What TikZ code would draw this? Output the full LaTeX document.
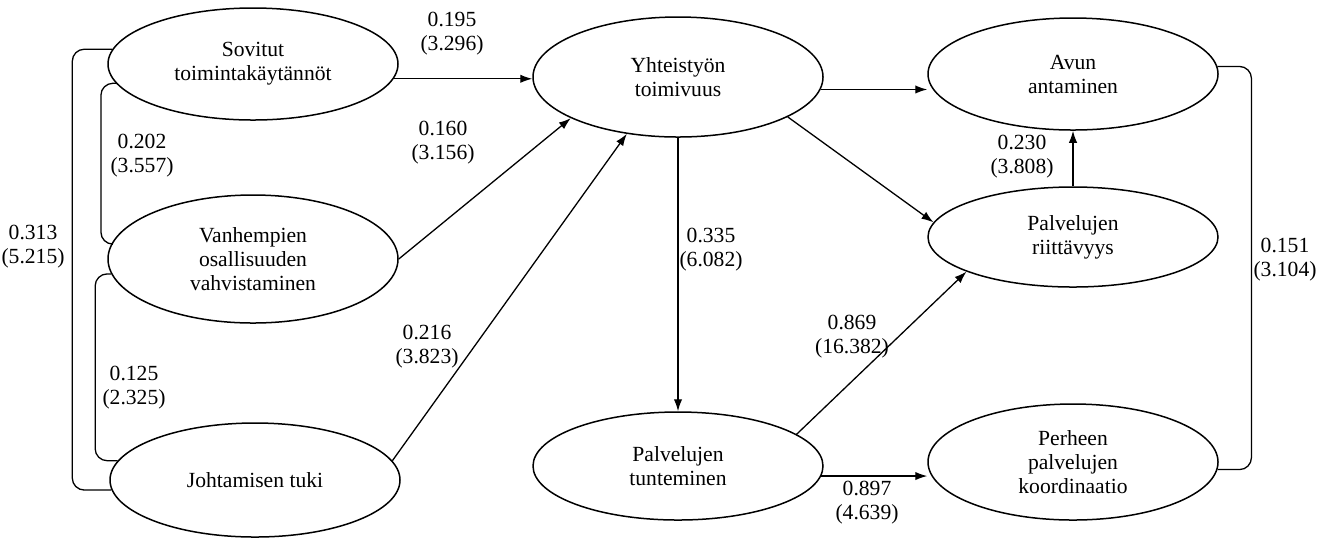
\documentclass[tikz,border=0pt]{standalone}
\usepackage{fontspec}
\setmainfont{Liberation Serif}
\usepackage{tikz}
\usetikzlibrary{shapes.geometric,arrows.meta}

\begin{document}
\begin{tikzpicture}[x=0.5pt,y=-0.5pt,font=\fontsize{10.8}{12}\selectfont]
  \tikzstyle{factor}=[ellipse,draw,line width=0.75pt,inner sep=0pt,minimum width=145pt,minimum height=56pt,align=center]
  \tikzstyle{coef}=[align=center,inner sep=1pt]
  \tikzstyle{path}=[line width=0.65pt,-{Latex[length=6pt,width=4.2pt]}]
  \tikzstyle{corr}=[line width=0.65pt,rounded corners=6pt]
  \useasboundingbox (0,0) rectangle (1325,538);
  \node[factor] (sov) at (253,64) {Sovitut\\toimintakäytännöt};
  \node[factor,minimum height=64pt] (van) at (253,259) {Vanhempien\\osallisuuden\\vahvistaminen};
  \node[factor,minimum height=57pt] (joh) at (255,480) {Johtamisen tuki};
  \node[factor,minimum height=60pt] (yht) at (678,77) {Yhteistyön\\toimivuus};
  \node[factor,minimum height=54pt] (tun) at (678,466) {Palvelujen\\tunteminen};
  \node[factor] (avun) at (1073,74) {Avun\\antaminen};
  \node[factor,minimum height=50pt] (riit) at (1073,237) {Palvelujen\\riittävyys};
  \node[factor,minimum height=58pt] (per) at (1073,462) {Perheen\\palvelujen\\koordinaatio};

  \draw[path] (sov.-6) -- (sov.-6 -| yht.west);
  \draw[path] (van.east) -- (yht.201);
  \draw[path] (joh.8) -- (yht.228);
  \draw[path] (yht.-5) -- (yht.-5 -| avun.west);
  \draw[path] (yht.-20) -- (riit.174);
  \draw[path] (yht.south) -- (tun.north);
  \draw[path] (riit.north) -- (avun.south);
  \draw[path] (tun.15) -- (riit.198);
  \draw[path] (tun.-4) -- (tun.-4 -| per.west);

  \draw[corr] (sov.188) -- ++(-15,0) |- (van.174);
  \draw[corr] (van.186) -- ++(-16,0) |- (joh.172);
  \draw[corr] (sov.174) -- ++(-40,0) |- (joh.184);
  \draw[corr] (avun.3) -- ++(34,0) |- (per.-3);

  \node[coef] (c1) at (452,34) {0.195\\(3.296)};
  \node[coef] (c2) at (443,143) {0.160\\(3.156)};
  \node[coef] (c3) at (427,347) {0.216\\(3.823)};
  \node[coef] (c4) at (711,250) {0.335\\(6.082)};
  \node[coef] (c5) at (1022,157) {0.230\\(3.808)};
  \node[coef] (c6) at (852,337) {0.869\\(16.382)};
  \node[coef] (c7) at (867,503) {0.897\\(4.639)};
  \node[coef] (c8) at (142,156) {0.202\\(3.557)};
  \node[coef] (c9) at (134,388) {0.125\\(2.325)};
  \node[coef] (c10) at (33,247) {0.313\\(5.215)};
  \node[coef] (c11) at (1285,260) {0.151\\(3.104)};
\end{tikzpicture}
\end{document}
